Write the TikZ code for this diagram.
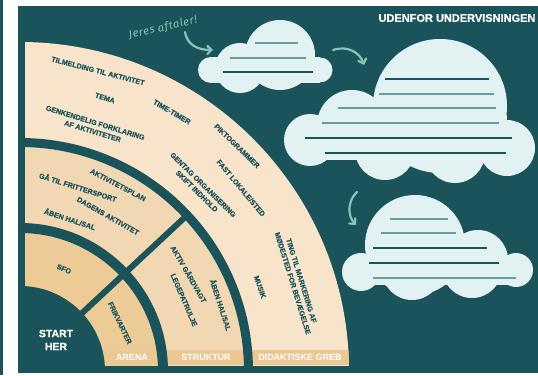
\documentclass[tikz,border=0pt]{standalone}
\usepackage{fontspec}
\setmainfont{Liberation Sans}
\newfontfamily\labfont[BoldFeatures={FakeBold=0.6}]{Liberation Sans}
\newfontfamily\hand[LetterSpace=6]{Fira Sans}
\usetikzlibrary{arrows.meta}
\definecolor{dk}{RGB}{27,83,91}
\definecolor{peach}{RGB}{248,228,203}
\definecolor{bandthree}{RGB}{242,216,178}
\definecolor{bandtwo}{RGB}{236,203,151}
\definecolor{boxc}{RGB}{234,200,148}
\definecolor{cloudc}{RGB}{226,242,243}
\definecolor{lnmid}{RGB}{105,155,160}
\definecolor{mint}{RGB}{132,198,184}
\tikzset{
  ft/.style={font=\labfont\fontsize{7.2}{9}\selectfont\bfseries, text=dk, align=center, inner sep=0pt},
  boxlab/.style={font=\fontsize{9}{10}\selectfont\bfseries, text=white, inner sep=0pt},
  cloudfill/.style={fill=cloudc},
  clinedk/.style={draw=dk, line width=1.1pt},
  clinemid/.style={draw=lnmid, line width=1.1pt},
  mintarrow/.style={draw=mint, line width=2.2pt, line cap=round, -{Straight Barb[length=4pt,width=8pt,line cap=round]}}
}
\begin{document}
\begin{tikzpicture}[x=1pt,y=1pt]
\useasboundingbox (0,0) rectangle (538,375);
\fill[white] (0,0) rectangle (538,375);
\fill[dk] (0,0) rectangle (3.3,375);
\fill[dk] (18,2) rectangle (538,369);
\coordinate (O) at (20,4);
% fan
\begin{scope}
\clip (25,10) rectangle (538,375);
\fill[peach] (O) circle (329);
\fill[bandthree] (O) circle (224);
\fill[bandtwo] (O) circle (138);
\begin{scope}
\clip (O) circle (329);
\fill[boxc] (100,10) rectangle (160,25);
\fill[boxc] (165,10) rectangle (247,25);
\fill[boxc] (250,10) rectangle (360,25);
\end{scope}
\draw[dk, line width=9] (O) circle (228.5);
\draw[dk, line width=10] (O) circle (143);
\fill[dk] (O) circle (85);
\draw[dk, line width=6] (O) ++(43:80) -- ++(43:150);
\end{scope}
% box labels
\node[boxlab] (arena) at (132,17.5) {ARENA};
\node[boxlab] (struktur) at (206,17.5) {STRUKTUR};
\node[boxlab] (didak) at (300,17.5) {DIDAKTISKE GREB};
\node[font=\labfont\fontsize{10.5}{13}\selectfont\bfseries, text=white, align=center, inner sep=0pt] (start) at (56,35) {START\\HER};
% fan texts
\node[ft, rotate=-14.6] (t1) at (98,304) {TILMELDING TIL AKTIVITET};
\node[ft, rotate=-17.3] (t2) at (105,277) {TEMA};
\node[ft, rotate=-17] (t3) at (94,248) {GENKENDELIG FORKLARING\\AF AKTIVITETER};
\node[ft, rotate=-30.4] (t4) at (172,263) {TIME-TIMER};
\node[ft, rotate=-44] (t5) at (237,229) {PIKTOGRAMMER};
\node[ft, rotate=-44.5] (t6) at (200,187) {GENTAG ORGANISERING\\SKIFT INDHOLD};
\node[ft, rotate=-50.2] (t7) at (241,187) {FAST LOKALE/STED};
\node[ft, rotate=-70.7] (t8) at (260,88) {MUSIK};
\node[ft, rotate=-72.8] (t9) at (297,93) {TING TIL MARKERING AF\\MØDESTED FOR BEVÆGELSE};
\node[ft, rotate=-27.8] (t10) at (118,190) {AKTIVITETSPLAN};
\node[ft, rotate=-17.5] (t11) at (78,188) {GÅ TIL FRITTERSPORT};
\node[ft, rotate=-29.6] (t12) at (108,159) {DAGENS AKTIVITET};
\node[ft, rotate=-18.2] (t13) at (70,156) {ÅBEN HAL/SAL};
\node[ft, rotate=-60.1] (t14) at (189,101) {AKTIV GÅRDVAGT};
\node[ft, rotate=-66.6] (t15) at (184,75) {LEGEPATRULJE};
\node[ft, rotate=-71.8] (t16) at (221,70) {ÅBEN HAL/SAL};
\node[ft, rotate=-23.3] (t17) at (64,106) {SFO};
\node[ft, rotate=-64.4] (t18) at (120,52) {FRIKVARTER};
% heading
\node[font=\labfont\fontsize{11}{12}\selectfont\bfseries, text=white, inner sep=0pt] (udenfor) at (457,357) {UDENFOR UNDERVISNINGEN};
% cloud 1
\begin{scope}[cloudfill]
\fill (280,320) circle (35);
\fill (240,307) circle (25);
\fill (211,305) circle (13);
\fill (320,305) circle (12.5);
\fill (240,305) circle (20);
\fill (211,292) rectangle (320,318);
\end{scope}
\draw[clinemid] (255,332) -- (298,332);
\draw[clinemid] (230,317) -- (306,317);
\draw[clinedk] (223,303) -- (313,303);
% cloud 2
\begin{scope}[cloudfill]
\fill (440,269) circle (67);
\fill (507,227) circle (28);
\fill (310,235) circle (26);
\fill (352,250) circle (35);
\fill (385,225) circle (30);
\fill (455,222) circle (30);
\fill (310,215) rectangle (507,260);
\end{scope}
\draw[clinedk] (385,296) -- (489,296);
\draw[clinemid] (379,281) -- (494,281);
\draw[clinemid] (338,267) -- (496,267);
\draw[clinemid] (322,252) -- (499,252);
\draw[clinedk] (305,237) -- (512,237);
\draw[clinedk] (325,222) -- (506,222);
% cloud 3
\begin{scope}[cloudfill]
\fill (415,130) circle (50);
\fill (478,115) circle (30);
\fill (516,105) circle (17);
\fill (361,103) circle (19);
\fill (412,105) circle (30);
\fill (472,107) circle (30);
\fill (361,90) rectangle (516,120);
\end{scope}
\draw[clinemid] (390,156) -- (448,156);
\draw[clinemid] (381,142) -- (456,142);
\draw[clinedk] (373,127) -- (487,127);
\draw[clinedk] (369,112) -- (499,112);
\draw[clinemid] (373,97) -- (516,97);
% handwriting and arrows
\node[font=\hand\itshape\fontsize{11}{13}\selectfont, text=mint, rotate=13, inner sep=0pt] (jeres) at (163,347) {Jeres aftaler!};
\coordinate (a1s) at (185,343);
\coordinate (a1e) at (213,325);
\coordinate (a2s) at (333,325);
\coordinate (a2e) at (364,310);
\coordinate (a3s) at (357,183);
\coordinate (a3e) at (356,150);
\draw[mintarrow] (a1s) .. controls (187,330) and (198,325) .. (a1e);
\draw[mintarrow] (a2s) .. controls (348,330) and (360,322) .. (a2e);
\draw[mintarrow] (a3s) .. controls (348,175) and (347,160) .. (a3e);
\end{tikzpicture}
\end{document}
